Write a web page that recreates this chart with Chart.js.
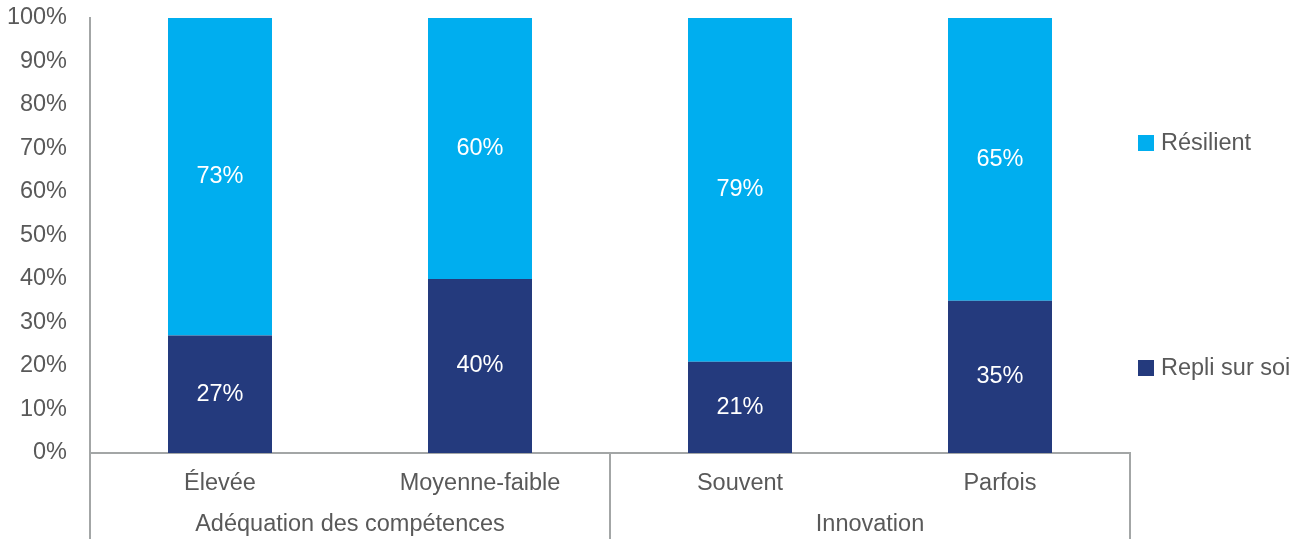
<!DOCTYPE html>
<html lang="fr">
<head>
<meta charset="utf-8">
<title>Résilient / Repli sur soi</title>
<script src="https://cdn.jsdelivr.net/npm/chart.js@4"></script>
<style>
  html, body { margin: 0; padding: 0; background: #fff; }
  #wrap { position: relative; width: 1303px; height: 539px; }
</style>
</head>
<body>
<div id="wrap"><canvas id="chart"></canvas></div>
<script>
// categories and their groups
const categories = ['Élevée', 'Moyenne-faible', 'Souvent', 'Parfois'];
const groups = ['Adéquation des compétences', 'Innovation'];
const groupSizes = [2, 2];

// series (percent)
const repliSurSoi = [27, 40, 21, 35];
const resilient = [73, 60, 79, 65];

const yTicks = [0, 10, 20, 30, 40, 50, 60, 70, 80, 90, 100];

const TEXT = '#595959';
const AXIS = '#A3A6A6';
const FONT = 'Liberation Sans, Arial, sans-serif';
const FONT_SIZE = 23.5;

const seriesStyle = [
  { label: 'Repli sur soi', data: repliSurSoi, color: '#243A7D' },
  { label: 'Résilient', data: resilient, color: '#00AEEF' }
];

// white value labels in the middle of each segment
const valueLabels = {
  id: 'valueLabels',
  afterDatasetsDraw(chart) {
    const ctx = chart.ctx;
    ctx.save();
    ctx.font = `${FONT_SIZE}px ${FONT}`;
    ctx.fillStyle = '#ffffff';
    ctx.textAlign = 'center';
    ctx.textBaseline = 'middle';
    chart.data.datasets.forEach((ds, i) => {
      chart.getDatasetMeta(i).data.forEach((bar, j) => {
        const p = bar.getProps(['x', 'y', 'base'], true);
        ctx.fillText(ds.data[j] + '%', p.x, (p.y + p.base) / 2);
      });
    });
    ctx.restore();
  }
};

// group separators, group titles and the side legend
const groupAxis = {
  id: 'groupAxis',
  afterDraw(chart) {
    const ctx = chart.ctx;
    const x = chart.scales.x;
    const area = chart.chartArea;
    const step = (x.right - x.left) / categories.length;
    ctx.save();
    ctx.strokeStyle = AXIS;
    ctx.lineWidth = 2;
    let start = 0;
    const edges = [x.left];
    groupSizes.forEach(n => { start += n; edges.push(x.left + start * step); });
    edges.forEach(px => {
      ctx.beginPath();
      ctx.moveTo(px, area.bottom);
      ctx.lineTo(px, chart.height);
      ctx.stroke();
    });
    ctx.font = `${FONT_SIZE}px ${FONT}`;
    ctx.fillStyle = TEXT;
    ctx.textAlign = 'center';
    ctx.textBaseline = 'middle';
    groups.forEach((g, i) => {
      ctx.fillText(g, (edges[i] + edges[i + 1]) / 2, area.bottom + 72);
    });

    // legend, top series first
    const items = [
      { s: seriesStyle[1], y: 143 },
      { s: seriesStyle[0], y: 368 }
    ];
    ctx.textAlign = 'left';
    items.forEach(it => {
      ctx.fillStyle = it.s.color;
      ctx.fillRect(area.right + 8, it.y - 8, 16, 16);
      ctx.fillStyle = TEXT;
      ctx.fillText(it.s.label, area.right + 31, it.y + 1);
    });
    ctx.restore();
  }
};

new Chart(document.getElementById('chart'), {
  type: 'bar',
  data: {
    labels: categories,
    datasets: seriesStyle.map(s => ({
      label: s.label,
      data: s.data,
      backgroundColor: s.color,
      borderWidth: 0,
      barPercentage: 0.4,
      categoryPercentage: 1
    }))
  },
  options: {
    responsive: true,
    maintainAspectRatio: false,
    animation: false,
    layout: { padding: { left: 0, right: 173, top: 18, bottom: 0 } },
    scales: {
      x: {
        stacked: true,
        grid: { display: false },
        border: { color: AXIS, width: 2 },
        ticks: {
          color: TEXT,
          font: { family: FONT, size: FONT_SIZE },
          padding: 8,
          maxRotation: 0
        },
        afterFit(scale) { scale.height = 86; }
      },
      y: {
        stacked: true,
        min: 0,
        max: 100,
        grid: { display: false },
        border: { color: AXIS, width: 2 },
        afterBuildTicks(scale) { scale.ticks = yTicks.map(v => ({ value: v })); },
        ticks: {
          color: TEXT,
          font: { family: FONT, size: FONT_SIZE },
          padding: 15,
          callback: v => v + '%'
        },
        afterFit(scale) {
          scale.width = 90;
          // top label may overhang into the layout padding
          scale.paddingTop = 0;
          scale.paddingBottom = 0;
        }
      }
    },
    plugins: {
      legend: { display: false },
      tooltip: { enabled: false }
    }
  },
  plugins: [valueLabels, groupAxis]
});
</script>
</body>
</html>
